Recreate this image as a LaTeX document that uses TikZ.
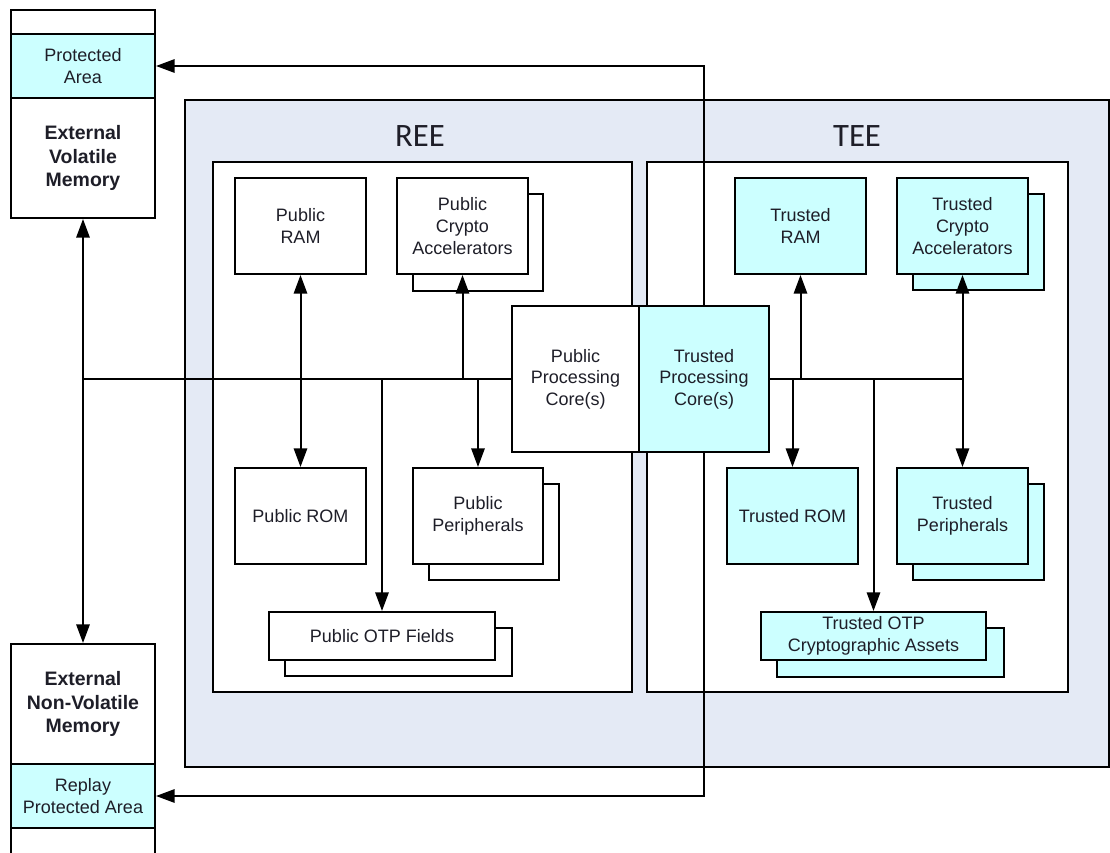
\documentclass[tikz,border=0pt]{standalone}
\usepackage{fontspec}
\setmainfont{Liberation Sans}
\newfontfamily\zonefont{Carlito}
\usetikzlibrary{arrows.meta}
\definecolor{cyanfill}{HTML}{CCFFFF}
\definecolor{zonefill}{HTML}{E4EAF5}
\definecolor{inktext}{HTML}{1E1E28}
\begin{document}
\begin{tikzpicture}[x=0.75pt,y=-0.75pt,
  % a rectangle given by its corners (left, top, right, bottom)
  rbox/.style args={#1,#2,#3,#4}{at={({(#1+#3)/2},{(#2+#4)/2})},
      minimum width={(#3-#1)*0.75pt}, minimum height={(#4-#2)*0.75pt}},
  box/.style={draw=black, line width=1.5pt, fill=white, inner sep=0pt, align=center,
              text=inktext, font=\fontsize{13.5}{16.2}\selectfont},
  tbox/.style={box, fill=cyanfill},
  membox/.style={box, font=\bfseries\fontsize{14.6}{17.6}\selectfont},
  zone/.style={draw=black, line width=1.5pt, inner sep=0pt},
  zonelabel/.style={font=\zonefont\fontsize{24.5}{28}\selectfont, text=inktext},
  wire/.style={draw=black, line width=1.5pt},
  arr/.style={wire, -{Triangle[length=14pt,width=10pt]}},
  darr/.style={wire, {Triangle[length=14pt,width=10pt]}-{Triangle[length=14pt,width=10pt]}}]

\useasboundingbox (0,0) rectangle (1110,853);
\clip (0,0) rectangle (1110,853);
\fill[white] (0,0) rectangle (1110,853);

% execution environments
\node[zone, fill=zonefill, rbox={185,100,1109,767}] (soc) {};
\node[zone, fill=white, rbox={213,162,632,692}] (ree) {};
\node[zone, fill=white, rbox={647,162,1068,692}] (tee) {};
\node[zonelabel] (reelabel) at (420,136) {REE};
\node[zonelabel] (teelabel) at (857,136) {TEE};

% external memories
\node[box, rbox={11,10,155,34}] (vtop) {};
\node[tbox, rbox={11,34,155,98}] (prot) {Protected\\Area};
\node[membox, rbox={11,98,155,218}] (vmem) {External\\Volatile\\Memory};
\node[membox, rbox={11,644,155,764}] (nvmem) {External\\Non-Volatile\\Memory};
\node[tbox, rbox={11,764,155,828}] (rpa) {Replay\\Protected Area};
\node[box, rbox={11,828,155,875}] (nvbot) {};

% public blocks
\node[box, rbox={235,178,366,274}] (pram) {Public\\RAM};
\node[box, rbox={413,194,543,291}] (pcryptoback) {};
\node[box, rbox={397,178,528,274}] (pcrypto) {Public\\Crypto\\Accelerators};
\node[box, rbox={235,468,366,564}] (prom) {Public ROM};
\node[box, rbox={429,484,559,580}] (pperiback) {};
\node[box, rbox={413,468,543,564}] (pperi) {Public\\Peripherals};
\node[box, rbox={285,628,512,676}] (potpback) {};
\node[box, rbox={269,612,495,660}] (potp) {Public OTP Fields};
\node[box, rbox={512,306,639,452}] (pcore) {Public\\Processing\\Core(s)};

% trusted blocks
\node[tbox, rbox={639,306,769,452}] (tcore) {Trusted\\Processing\\Core(s)};
\node[tbox, rbox={735,178,866,274}] (tram) {Trusted\\RAM};
\node[tbox, rbox={913,194,1044,290}] (tcryptoback) {};
\node[tbox, rbox={897,178,1028,274}] (tcrypto) {Trusted\\Crypto\\Accelerators};
\node[tbox, rbox={727,468,858,564}] (trom) {Trusted ROM};
\node[tbox, rbox={913,484,1044,580}] (tperiback) {};
\node[tbox, rbox={897,468,1028,564}] (tperi) {Trusted\\Peripherals};
\node[tbox, rbox={777,628,1004,677}] (totpback) {};
\node[tbox, rbox={761,612,986,660}] (totp) {Trusted OTP\\Cryptographic Assets};

% public bus
\coordinate (jl) at (vmem.south |- pcore.west);
\draw[darr] (vmem.south) -- (nvmem.north);
\draw[wire] (jl) -- (pcore.west);
\draw[darr] (pram.south) -- (prom.north);
\draw[arr] (pcrypto.south |- pcore.west) -- (pcrypto.south);
\draw[arr] (pperi.north |- pcore.west) -- (pperi.north);
\draw[arr] (potp.north |- pcore.west) -- (potp.north);

% trusted bus
\coordinate (jr) at (tcrypto.south |- tcore.east);
\draw[wire] (tcore.east) -- (jr);
\draw[arr] (tram.south |- tcore.east) -- (tram.south);
\draw[arr] (trom.north |- tcore.east) -- (trom.north);
\draw[arr] (totp.north |- tcore.east) -- (totp.north);
\draw[arr] (jr) -- (tcrypto.south);
\draw[arr] (tperi.north |- jr) -- (tperi.north);

% trusted core to protected memory areas
\draw[arr] (tcore.north) |- (prot.east);
\draw[arr] (tcore.south) |- (rpa.east);
\end{tikzpicture}
\end{document}
